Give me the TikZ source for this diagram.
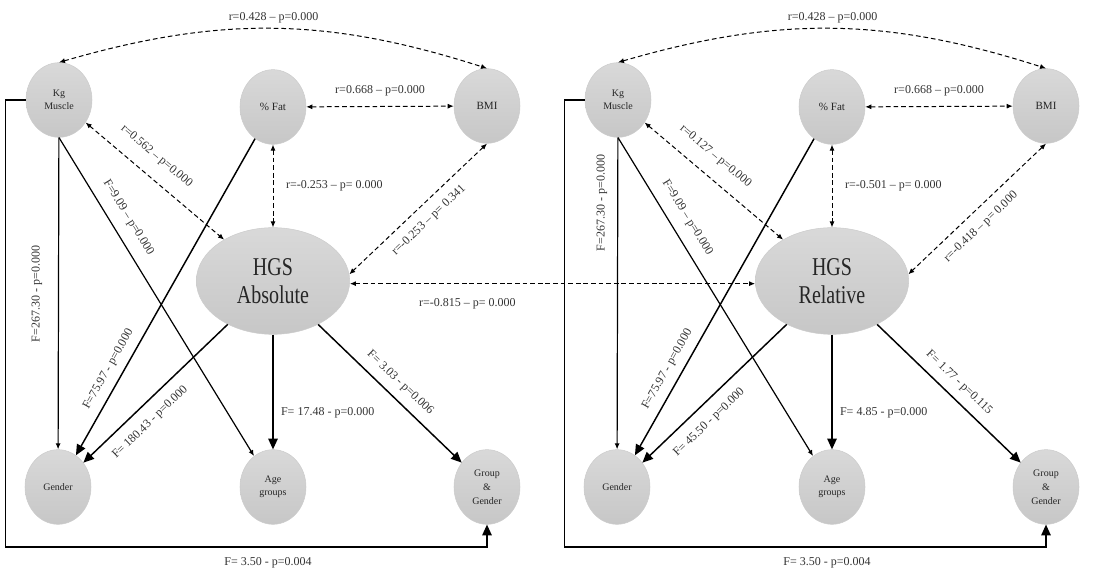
\documentclass[tikz,border=0pt]{standalone}
\usepackage{fontspec}
\setmainfont{Liberation Serif}
\usepackage{graphicx}
\usepackage{tikz}
\usetikzlibrary{shapes.geometric, positioning, arrows.meta}

\tikzset{
  var/.style={ellipse, draw=gray!40, top color=gray!30, bottom color=gray!44, minimum width=49.5pt, minimum height=56pt, inner sep=0pt, align=center, text=black!85, font=\fontsize{7.5}{10}\selectfont},
  hgs/.style={var, minimum width=115pt, minimum height=80pt, font=\fontsize{15}{21}\selectfont},
  lbl/.style={font=\fontsize{9}{10}\selectfont, text=black!80, inner sep=1.5pt},
  corr/.style={{Latex[length=4.5pt,width=3.8pt]}-{Latex[length=4.5pt,width=3.8pt]}, dash pattern=on 3.5pt off 2.2pt, line width=0.75pt},
  eff/.style={-{Latex[length=4.5pt,width=3.8pt]}, line width=0.9pt},
  bigeff/.style={-{Triangle[length=8pt,width=7pt]}, line width=1.1pt},
}

\begin{document}
\begin{tikzpicture}[x=0.75pt, y=-0.75pt]
  \useasboundingbox (0,0) rectangle (1108,573);
  \foreach \p/\ox/\kind/\rkh/\rfh/\rbh/\rbp/\fhg/\fha/\fhr/\fkx/\fky in {
    A/0/Absolute/r=0.562 – p=0.000/r=-0.253 – p= 0.000/r=-0.253 – p= 0.341/0.5/F= 180.43 - p=0.000/F= 17.48 - p=0.000/F= 3.03 - p=0.006/37/294,
    R/559/Relative/r=0.127 – p=0.000/r=-0.501 – p= 0.000/r=-0.418 – p= 0.000/0.55/F= 45.50 - p=0.000/F= 4.85 - p=0.000/F= 1.77 - p=0.115/43/203}
  {
    % variables of one panel
    \node[var] (kg\p) at (\ox+59,100) {Kg\\Muscle};
    \node[var, font=\fontsize{8.3}{10}\selectfont] (fat\p) at (\ox+273,107) {\% Fat};
    \node[var, font=\fontsize{8.3}{10}\selectfont] (bmi\p) at (\ox+487,106) {BMI};
    \node[hgs] (hgs\p) at (\ox+273,281) {\scalebox{1}[1.28]{HGS}\\\scalebox{1}[1.28]{\kind}};
    \node[var] (gen\p) at (\ox+58,487) {Gender};
    \node[var] (age\p) at (\ox+273,487) {Age\\groups};
    \node[var, font=\fontsize{7.5}{10.5}\selectfont] (grp\p) at (\ox+487,487) {Group\\\&\\Gender};
    % correlations
    \draw[corr] (kg\p.north) to[bend left=17] node[lbl, above=2pt] {r=0.428 – p=0.000} (bmi\p.north);
    \draw[corr] (fat\p) -- node[lbl, above=6pt] {r=0.668 – p=0.000} (bmi\p);
    \draw[corr] (fat\p) -- node[lbl, right=8pt] {\rfh} (hgs\p);
    \draw[corr] (kg\p) -- node[lbl, above=9pt, sloped, pos=0.42] {\rkh} (hgs\p);
    \draw[corr] (bmi\p.south) -- node[lbl, below=6pt, sloped, pos=\rbp] {\rbh} (hgs\p.5);
    % effects
    \draw[eff] (kg\p) -- (gen\p);
    \node[lbl, rotate=90] (fk\p) at (\ox+\fkx,\fky) {F=267.30 - p=0.000};
    \draw[eff] (kg\p.south) -- node[lbl, above=7pt, sloped, pos=0.28] {F=9.09 – p=0.000} (age\p);
    \draw[bigeff] (fat\p) -- node[lbl, above=4.5pt, sloped, pos=0.75] {F=75.97 - p=0.000} (gen\p);
    \draw[bigeff] (hgs\p) -- node[lbl, below=7pt, sloped, pos=0.62] {\fhg} (gen\p);
    \draw[bigeff] (hgs\p) -- node[lbl, right=4pt, pos=0.68] {\fha} (age\p);
    \draw[bigeff] (hgs\p) -- node[lbl, above=5pt, sloped, pos=0.5] {\fhr} (grp\p);
    \draw[bigeff] (kg\p.west) -- ++(-20,0) -- ++(0,447) -| (grp\p.south);
    \node[lbl] (fb\p) at (\ox+268,563) {F= 3.50 - p=0.004};
  }
  \draw[corr] ([yshift=-2pt]hgsA.east) -- node[lbl, below=9pt, pos=0.29] {r=-0.815 – p= 0.000} ([yshift=-2pt]hgsR.west); % absolute vs relative
\end{tikzpicture}
\end{document}
